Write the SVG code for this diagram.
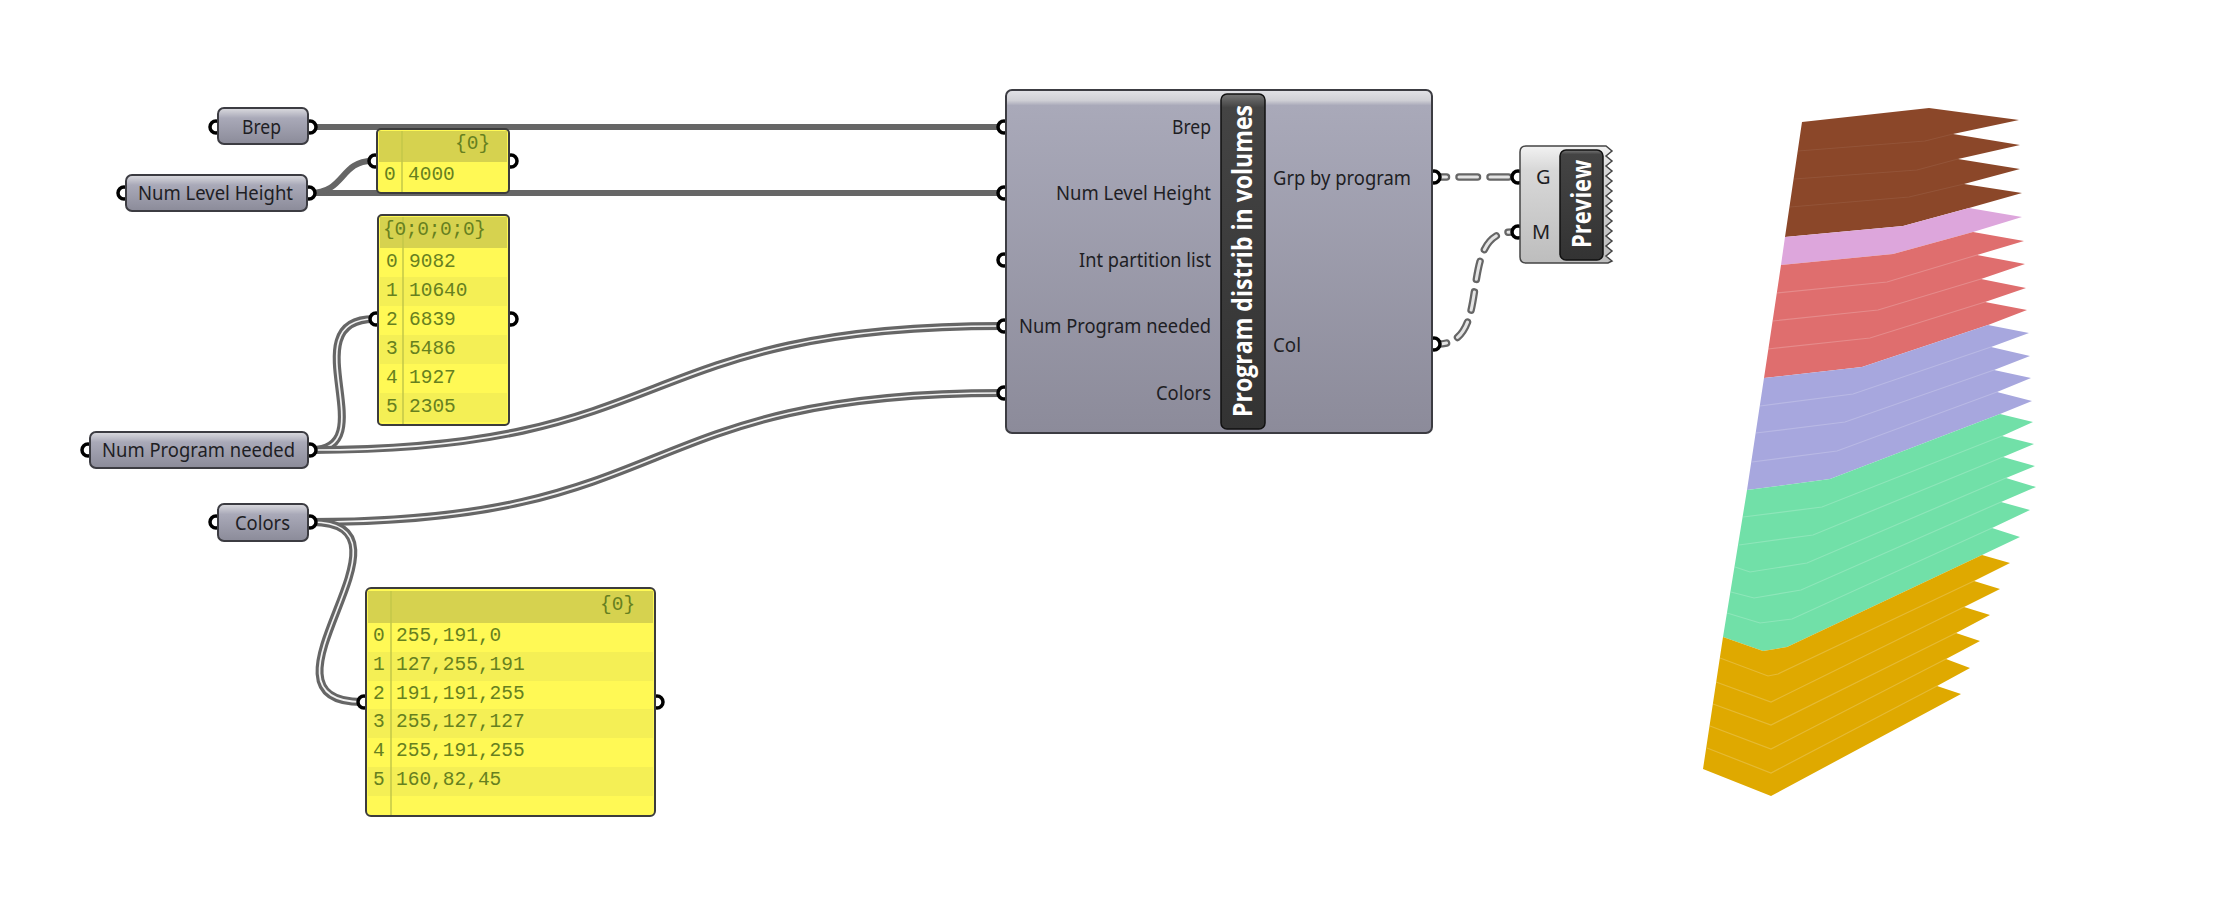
<svg xmlns="http://www.w3.org/2000/svg" width="2220" height="905" viewBox="0 0 2220 905">
<style>
.n{stroke:#3c3c42;stroke-width:2;fill:url(#body)}
.main{stroke:#3c3c42;stroke-width:2;fill:url(#mainbody)}
.p{fill:#fff;stroke:#000;stroke-width:3.5}
.t{font-family:"Noto Sans","Open Sans",sans-serif;font-size:20px;fill:#1e1e24}
.l{font-family:"Noto Sans","Open Sans",sans-serif;font-size:20px;fill:#1e1e24;text-anchor:end}
.h{font-family:"Open Sans","Noto Sans",sans-serif;font-weight:700;font-size:22px;fill:#fff}
.m{font-family:"Liberation Mono",monospace;font-size:19.5px;fill:#66801f}
.pan{fill:#fff955;stroke:#3c3c3c;stroke-width:2}
.head{fill:#d6d24f}
.alt{fill:#f4ef55}
.col{stroke:#c3c748;stroke-width:1.5}
.label{fill:url(#dark);stroke:#111;stroke-width:1.5}
.w{fill:none;stroke:#666;stroke-width:6}
.wd{fill:none;stroke:#666;stroke-width:8}
.wi{fill:none;stroke:#f2f2f2;stroke-width:1.7}
.do{fill:none;stroke:#666;stroke-width:7.5;stroke-linecap:round;stroke-dasharray:18.5 12.5;stroke-dashoffset:10}
.di{fill:none;stroke:#e4e4e4;stroke-width:3;stroke-linecap:round;stroke-dasharray:18.5 12.5;stroke-dashoffset:10}
.s{fill:none;stroke-width:1.2;stroke-opacity:.2;stroke:#fff}
.sb{fill:none;stroke-width:1.2;stroke-opacity:.07;stroke:#fff}
</style>
<defs>
<linearGradient id="body" x1="0" y1="0" x2="0" y2="1">
<stop offset="0" stop-color="#dcdce0"/><stop offset=".28" stop-color="#a9a9b8"/><stop offset="1" stop-color="#8b8b99"/>
</linearGradient>
<linearGradient id="mainbody" x1="0" y1="0" x2="0" y2="1">
<stop offset="0" stop-color="#e2e2e6"/><stop offset=".03" stop-color="#d0d0d6"/><stop offset=".045" stop-color="#a9a9b9"/><stop offset="1" stop-color="#8c8b9a"/>
</linearGradient>
<linearGradient id="dark" x1="0" y1="0" x2="0" y2="1">
<stop offset="0" stop-color="#777"/><stop offset=".04" stop-color="#444"/><stop offset="1" stop-color="#333"/>
</linearGradient>
<linearGradient id="prev" x1="0" y1="0" x2="0" y2="1">
<stop offset="0" stop-color="#f2f2f2"/><stop offset=".2" stop-color="#d8d8d8"/><stop offset="1" stop-color="#bdbdbd"/>
</linearGradient>
</defs>

<g id="connectors">
<path class="w" d="M312,127H1002"/>
<path class="w" d="M310,193H1002"/>
<path class="w" d="M310,193C345,193 340,161 372,161"/>
<path class="wd" d="M312,450C385,450 290,319 374,319"/>
<path class="wi" d="M312,450C385,450 290,319 374,319"/>
<path class="wd" d="M312,450C680,450 630,326 1002,326"/>
<path class="wi" d="M312,450C680,450 630,326 1002,326"/>
<path class="wd" d="M312,522C680,522 630,393 1002,393"/>
<path class="wi" d="M312,522C680,522 630,393 1002,393"/>
<path class="wd" d="M312,522C432,522 240,702 362,702"/>
<path class="wi" d="M312,522C432,522 240,702 362,702"/>
<path class="do" d="M1438,177H1512"/>
<path class="di" d="M1438,177H1512"/>
<path class="do" d="M1438,344C1495,344 1455,232 1512,232"/>
<path class="di" d="M1438,344C1495,344 1455,232 1512,232"/>
</g>

<g id="node-brep">
<circle class="p" cx="216" cy="127" r="6"/><circle class="p" cx="310" cy="127" r="6"/>
<rect class="n" x="218" y="108" width="90" height="36" rx="6"/>
<text class="t" x="242" y="134" textLength="39" lengthAdjust="spacingAndGlyphs">Brep</text>
</g>
<g id="node-num-level-height">
<circle class="p" cx="124" cy="193" r="6"/><circle class="p" cx="309" cy="193" r="6"/>
<rect class="n" x="126" y="175" width="181" height="36" rx="6"/>
<text class="t" x="138" y="200" textLength="155" lengthAdjust="spacingAndGlyphs">Num Level Height</text>
</g>
<g id="node-num-program-needed">
<circle class="p" cx="88" cy="450" r="6"/><circle class="p" cx="310" cy="450" r="6"/>
<rect class="n" x="90" y="432" width="218" height="36" rx="6"/>
<text class="t" x="102" y="457" textLength="193" lengthAdjust="spacingAndGlyphs">Num Program needed</text>
</g>
<g id="node-colors">
<circle class="p" cx="216" cy="522" r="6"/><circle class="p" cx="310" cy="522" r="6"/>
<rect class="n" x="218" y="504" width="90" height="37" rx="6"/>
<text class="t" x="235" y="530" textLength="55" lengthAdjust="spacingAndGlyphs">Colors</text>
</g>

<g id="panel-level-height">
<circle class="p" cx="375" cy="161" r="6"/><circle class="p" cx="511" cy="161" r="6"/>
<rect class="pan" x="377" y="129" width="132" height="64" rx="4"/>
<rect class="head" x="379" y="131" width="128" height="31"/>
<path class="col" d="M402,131V192"/>
<text class="m" x="455" y="149">{0}</text>
<text class="m" x="384" y="180">0</text>
<text class="m" x="408" y="180">4000</text>
</g>

<g id="panel-program-needed">
<circle class="p" cx="376" cy="319" r="6"/><circle class="p" cx="511" cy="319" r="6"/>
<rect class="pan" x="378" y="215" width="131" height="210" rx="4"/>
<rect class="head" x="380" y="217" width="127" height="31"/>
<rect class="alt" x="380" y="277" width="127" height="29"/>
<rect class="alt" x="380" y="335" width="127" height="29"/>
<rect class="alt" x="380" y="393" width="127" height="29"/>
<path class="col" d="M403,217V424"/>
<text class="m" x="383" y="235" textLength="103">{0;0;0;0}</text>
<text class="m" x="386" y="267">0</text><text class="m" x="409" y="267">9082</text>
<text class="m" x="386" y="296">1</text><text class="m" x="409" y="296">10640</text>
<text class="m" x="386" y="325">2</text><text class="m" x="409" y="325">6839</text>
<text class="m" x="386" y="354">3</text><text class="m" x="409" y="354">5486</text>
<text class="m" x="386" y="383">4</text><text class="m" x="409" y="383">1927</text>
<text class="m" x="386" y="412">5</text><text class="m" x="409" y="412">2305</text>
</g>

<g id="panel-colors">
<circle class="p" cx="364" cy="702" r="6"/><circle class="p" cx="657" cy="702" r="6"/>
<rect class="pan" x="366" y="588" width="289" height="228" rx="5"/>
<rect class="head" x="368" y="591" width="285" height="32"/>
<rect class="alt" x="368" y="652" width="285" height="29"/>
<rect class="alt" x="368" y="709" width="285" height="29"/>
<rect class="alt" x="368" y="767" width="285" height="29"/>
<path class="col" d="M391,591V815"/>
<text class="m" x="600" y="610">{0}</text>
<text class="m" x="373" y="641">0</text><text class="m" x="396" y="641">255,191,0</text>
<text class="m" x="373" y="670">1</text><text class="m" x="396" y="670">127,255,191</text>
<text class="m" x="373" y="699">2</text><text class="m" x="396" y="699">191,191,255</text>
<text class="m" x="373" y="727">3</text><text class="m" x="396" y="727">255,127,127</text>
<text class="m" x="373" y="756">4</text><text class="m" x="396" y="756">255,191,255</text>
<text class="m" x="373" y="785">5</text><text class="m" x="396" y="785">160,82,45</text>
</g>

<g id="node-program-distrib">
<circle class="p" cx="1004" cy="127" r="6"/><circle class="p" cx="1004" cy="193" r="6"/><circle class="p" cx="1004" cy="260" r="6"/><circle class="p" cx="1004" cy="326" r="6"/><circle class="p" cx="1004" cy="393" r="6"/>
<circle class="p" cx="1434" cy="177" r="6"/><circle class="p" cx="1434" cy="344" r="6"/>
<rect class="main" x="1006" y="90" width="426" height="343" rx="6"/>
<text class="l" x="1211" y="134" textLength="39" lengthAdjust="spacingAndGlyphs">Brep</text>
<text class="l" x="1211" y="200" textLength="155" lengthAdjust="spacingAndGlyphs">Num Level Height</text>
<text class="l" x="1211" y="267" textLength="132" lengthAdjust="spacingAndGlyphs">Int partition list</text>
<text class="l" x="1211" y="333" textLength="192" lengthAdjust="spacingAndGlyphs">Num Program needed</text>
<text class="l" x="1211" y="400" textLength="55" lengthAdjust="spacingAndGlyphs">Colors</text>
<text class="t" x="1273" y="185" textLength="138" lengthAdjust="spacingAndGlyphs">Grp by program</text>
<text class="t" x="1273" y="352" textLength="28" lengthAdjust="spacingAndGlyphs">Col</text>
<rect class="label" x="1221" y="94" width="44" height="335" rx="6"/>
<text class="h" transform="translate(1252,417) rotate(-90) scale(1,1.2)" textLength="312" lengthAdjust="spacingAndGlyphs">Program distrib in volumes</text>
</g>

<g id="node-preview">
<circle class="p" cx="1518" cy="177" r="6"/><circle class="p" cx="1518" cy="232" r="6"/>
<path d="M1526,146H1606L1612,151L1606,156L1612,161L1606,166L1612,171L1606,176L1612,181L1606,186L1612,191L1606,196L1612,201L1606,206L1612,211L1606,216L1612,221L1606,226L1612,231L1606,236L1612,241L1606,246L1612,251L1606,256L1612,261L1608,263H1526Q1520,263 1520,257V152Q1520,146 1526,146Z" fill="url(#prev)" stroke="#444" stroke-width="1.5"/>
<text class="t" x="1536" y="184">G</text>
<text class="t" x="1532" y="239">M</text>
<rect class="label" x="1560" y="150" width="43" height="110" rx="6"/>
<text class="h" transform="translate(1591,248) rotate(-90) scale(1,1.2)" textLength="88" lengthAdjust="spacingAndGlyphs">Preview</text>
</g>

<g id="model">
<polygon fill="#8b4729" points="1802,122 1929,108 2019,120 1953,134 2020,145 1958,159 2020,169 1964,184 2022,193 1969,208 1903,226 1785,237"/>
<polygon fill="#dda6dc" points="1785,237 1903,226 1969,208 2022,217 1973,232 1893,254 1781,265"/>
<polygon fill="#df6e6e" points="1781,265 1893,254 1973,232 2024,241 1977,255 2025,264 1981,279 2026,288 1985,302 2027,310 1988,325 1862,367 1764,378"/>
<polygon fill="#a7a7de" points="1764,378 1862,367 1988,325 2029,333 1991,347 2030,356 1994,370 2031,378 1997,392 2032,401 2000,414 1830,479 1747,490"/>
<polygon fill="#71e0a8" points="1747,490 1830,479 2000,414 2033,422 2002,436 2034,444 2003,457 2035,466 2006,478 2036,487 2001,502 2030,510 1992,528 2020,537 1982,555 1787,647 1763,651 1723,637"/>
<polygon fill="#dfa900" points="1723,637 1763,651 1787,647 1982,555 2010,563 1974,581 2000,589 1964,607 1990,615 1956,633 1980,641 1946,659 1970,668 1937,686 1961,694 1771,796 1703,769"/>
<polyline class="sb" points="1798,151 1925,141 1953,134"/>
<polyline class="sb" points="1794,179 1917,170 1958,159"/>
<polyline class="sb" points="1790,207 1909,197 1964,184"/>
<polyline class="s" points="1777,293 1887,282 1977,255"/>
<polyline class="s" points="1773,321 1878,310 1981,279"/>
<polyline class="s" points="1768,349 1870,338 1985,302"/>
<polyline class="s" points="1760,406 1853,394 1991,347"/>
<polyline class="s" points="1756,433 1845,422 1994,370"/>
<polyline class="s" points="1752,462 1837,451 1997,392"/>
<polyline class="s" points="1743,517 1822,507 2002,436"/>
<polyline class="s" points="1739,545 1813,535 2003,457"/>
<polyline class="s" points="1735,567 1750,572 1807,563 2006,478"/>
<polyline class="s" points="1731,592 1754,598 1801,590 2001,502"/>
<polyline class="s" points="1727,613 1760,623 1792,619 1992,528"/>
<polyline class="s" points="1720,658 1768,676 1778,674 1974,581"/>
<polyline class="s" points="1716,682 1771,702 1964,607"/>
<polyline class="s" points="1713,704 1771,725 1956,633"/>
<polyline class="s" points="1710,726 1771,749 1946,659"/>
<polyline class="s" points="1707,748 1771,773 1937,686"/>
</g>
</svg>
